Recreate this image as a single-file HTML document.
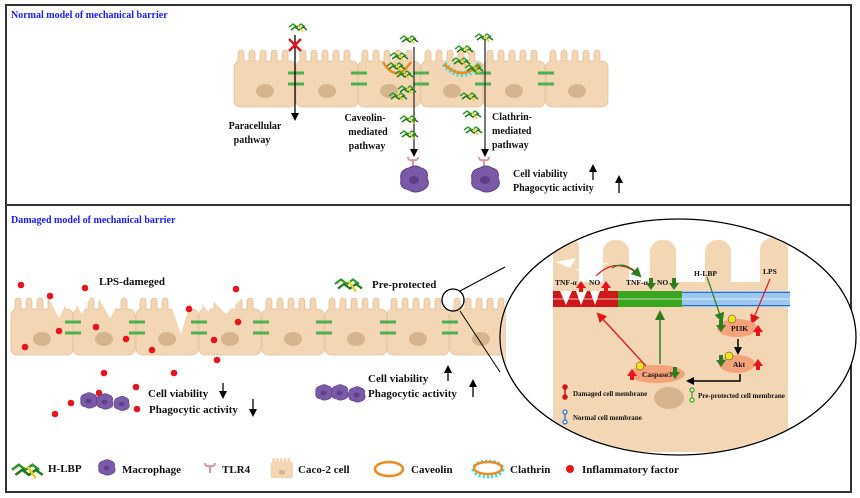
<!DOCTYPE html>
<html><head><meta charset="utf-8"><style>
html,body{margin:0;padding:0;background:#fff}
svg{display:block;font-family:"Liberation Serif",serif;font-weight:bold}
</style></head><body>
<svg width="860" height="498" viewBox="0 0 860 498" xmlns="http://www.w3.org/2000/svg">
<defs>
<g id="cell">
<g fill="#f3d6b3" stroke="#e4c09a" stroke-width="0.8">
<rect x="4" y="0" width="6" height="20" rx="3"/><rect x="15" y="0" width="6" height="20" rx="3"/><rect x="26" y="0" width="6" height="20" rx="3"/><rect x="37" y="0" width="6" height="20" rx="3"/><rect x="48" y="0" width="6" height="20" rx="3"/>
<rect x="0" y="11" width="62" height="46" rx="6"/>
</g>
<g fill="#f3d6b3"><rect x="5" y="6" width="4" height="8"/><rect x="16" y="6" width="4" height="8"/><rect x="27" y="6" width="4" height="8"/><rect x="38" y="6" width="4" height="8"/><rect x="49" y="6" width="4" height="8"/></g>
<ellipse cx="31" cy="41" rx="9" ry="7" fill="#d6b58e"/>
</g>
<g id="hlbp">
<path d="M0,4 l4,-3 l4,3 l4,-3 l4,3" stroke="#2e9a2e" stroke-width="1.5" fill="none"/>
<path d="M2,7 l4,-3 l4,3 l4,-3 l4,3" stroke="#1f7a1f" stroke-width="1.5" fill="none"/>
<path d="M9,2 l5,7" stroke="#e8d020" stroke-width="1.5"/>
</g>
<g id="mac">
<path d="M-12,0 q-2,-10 8,-12 q6,-4 12,0 q8,2 6,10 q4,8 -4,12 q-8,4 -14,0 q-10,-2 -8,-10z" fill="#7a5aa6" stroke="#5a3e86"/>
<ellipse cx="1" cy="0" rx="5" ry="4" fill="#5e4088"/>
</g>
<g id="tlr"><path d="M0,10 v-7 M-5,0 q0,4 5,3 q5,1 5,-3" stroke="#d99aa8" stroke-width="2" fill="none"/></g>
<marker id="ab" markerWidth="8" markerHeight="8" refX="4" refY="4" orient="auto" markerUnits="userSpaceOnUse"><path d="M0,0 L8,4 L0,8z" fill="#000"/></marker>
<marker id="ar" markerWidth="10" markerHeight="10" refX="5" refY="5" orient="auto" markerUnits="userSpaceOnUse"><path d="M0,0 L10,5 L0,10z" fill="#e8141c"/></marker>
<marker id="ag" markerWidth="10" markerHeight="10" refX="5" refY="5" orient="auto" markerUnits="userSpaceOnUse"><path d="M0,0 L10,5 L0,10z" fill="#2e7d1e"/></marker>
</defs>
<rect x="6" y="5" width="845" height="200" fill="none" stroke="#333" stroke-width="2"/>
<rect x="6" y="205" width="845" height="287" fill="none" stroke="#333" stroke-width="2"/>
<text x="11" y="18" fill="#1a1aff" font-size="10">Normal model of mechanical barrier</text>
<text x="11" y="223" fill="#1a1aff" font-size="10">Damaged model of mechanical barrier</text>

<!-- top cells -->
<g transform="translate(234,50)"><use href="#cell"/></g>
<g transform="translate(296,50)"><use href="#cell"/></g>
<g transform="translate(358,50)"><use href="#cell"/></g>
<g transform="translate(421,50)"><use href="#cell"/></g>
<g transform="translate(483,50)"><use href="#cell"/></g>
<g transform="translate(546,50)"><use href="#cell"/></g>
<g stroke="#4caf50" stroke-width="3">
<path d="M288,73h16M288,84h16M351,73h16M351,84h16M413,73h16M413,84h16M475,73h16M475,84h16M538,73h16M538,84h16"/>
</g>
<path d="M383,62 q13,22 28,0" fill="none" stroke="#f08a1a" stroke-width="2.5"/>
<path d="M444,64 q18,20 36,0" fill="none" stroke="#2ee0f0" stroke-width="6" stroke-dasharray="2 2"/>
<path d="M444,64 q18,18 36,0" fill="none" stroke="#f08a1a" stroke-width="2.5"/>
<line x1="295" y1="35" x2="295" y2="117" stroke="#000" stroke-width="1.3" marker-end="url(#ab)"/>
<path d="M289,39l12,12M301,39l-12,12" stroke="#e8141c" stroke-width="2.5"/>
<line x1="414" y1="47" x2="414" y2="153" stroke="#333" stroke-width="1.3" marker-end="url(#ab)"/>
<line x1="485" y1="40" x2="485" y2="153" stroke="#333" stroke-width="1.3" marker-end="url(#ab)"/>
<g>
<use href="#hlbp" x="289" y="23"/><use href="#hlbp" x="400" y="35"/><use href="#hlbp" x="390" y="52"/><use href="#hlbp" x="387" y="62"/><use href="#hlbp" x="395" y="70"/><use href="#hlbp" x="398" y="85"/><use href="#hlbp" x="389" y="92"/><use href="#hlbp" x="400" y="115"/><use href="#hlbp" x="400" y="130"/>
<use href="#hlbp" x="475" y="33"/><use href="#hlbp" x="455" y="45"/><use href="#hlbp" x="452" y="57"/><use href="#hlbp" x="465" y="64"/><use href="#hlbp" x="460" y="92"/><use href="#hlbp" x="463" y="110"/><use href="#hlbp" x="464" y="126"/>
</g>
<g font-size="10" fill="#111" text-anchor="middle">
<text x="255" y="129">Paracellular</text><text x="252" y="143">pathway</text>
<text x="365" y="121">Caveolin-</text><text x="368" y="135">mediated</text><text x="367" y="149">pathway</text>
</g>
<g font-size="10" fill="#111"><text x="492" y="120">Clathrin-</text><text x="492" y="134">mediated</text><text x="492" y="148">pathway</text>
<text x="513" y="177">Cell viability</text><text x="513" y="191">Phagocytic activity</text></g>
<line x1="593" y1="180" x2="593" y2="168" stroke="#000" stroke-width="1.3" marker-end="url(#ab)"/>
<line x1="619" y1="193" x2="619" y2="179" stroke="#000" stroke-width="1.3" marker-end="url(#ab)"/>
<use href="#tlr" x="413" y="157"/><use href="#mac" x="413" y="180"/>
<use href="#tlr" x="484" y="157"/><use href="#mac" x="484" y="180"/>

<!-- bottom cells -->
<g transform="translate(11,298)"><use href="#cell"/></g>
<g transform="translate(73,298)"><use href="#cell"/></g>
<g transform="translate(136,298)"><use href="#cell"/></g>
<g transform="translate(199,298)"><use href="#cell"/></g>
<g transform="translate(262,298)"><use href="#cell"/></g>
<g transform="translate(325,298)"><use href="#cell"/></g>
<g transform="translate(387,298)"><use href="#cell"/></g>
<g transform="translate(450,298)"><use href="#cell"/></g>
<g fill="#fff"><path d="M46,294 l13,24 l12,-24z M70,294 l12,20 l10,-20z M96,294 l14,24 l14,-24z M167,294 l14,40 l12,-40z M196,294 l12,18 l10,-18z M206,294 l20,20 l20,-20z"/></g>
<g stroke="#4caf50" stroke-width="3">
<path d="M65,322h16M65,333h16M129,322h16M129,333h16M191,322h16M191,333h16M253,322h16M253,333h16M316,322h16M316,333h16M380,322h16M380,333h16M442,322h16M442,333h16"/>
</g>
<g fill="#e8141c">
<circle cx="21" cy="285" r="3.3"/><circle cx="50" cy="296" r="3.3"/><circle cx="85" cy="288" r="3.3"/><circle cx="236" cy="289" r="3.3"/><circle cx="59" cy="331" r="3.3"/><circle cx="96" cy="327" r="3.3"/><circle cx="189" cy="309" r="3.3"/><circle cx="126" cy="339" r="3.3"/><circle cx="238" cy="322" r="3.3"/><circle cx="25" cy="347" r="3.3"/><circle cx="152" cy="350" r="3.3"/><circle cx="214" cy="340" r="3.3"/><circle cx="217" cy="360" r="3.3"/><circle cx="104" cy="373" r="3.3"/><circle cx="174" cy="373" r="3.3"/><circle cx="136" cy="387" r="3.3"/><circle cx="99" cy="393" r="3.3"/><circle cx="71" cy="403" r="3.3"/><circle cx="55" cy="414" r="3.3"/><circle cx="137" cy="409" r="3.3"/>
</g>
<use href="#mac" transform="translate(88,401) scale(0.6)"/><use href="#mac" transform="translate(104,402) scale(0.6)"/><use href="#mac" transform="translate(121,404) scale(0.55)"/>
<use href="#mac" transform="translate(323,393) scale(0.6)"/><use href="#mac" transform="translate(339,393) scale(0.6)"/><use href="#mac" transform="translate(356,395) scale(0.6)"/>
<g font-size="11" fill="#111">
<text x="99" y="285">LPS-dameged</text>
<text x="372" y="288">Pre-protected</text>
<text x="148" y="397">Cell viability</text><text x="149" y="413">Phagocytic activity</text>
<text x="368" y="382">Cell viability</text><text x="368" y="397">Phagocytic activity</text>
</g>
<use href="#hlbp" transform="translate(335,278) scale(1.5)"/>
<line x1="223" y1="383" x2="223" y2="395" stroke="#000" stroke-width="1.3" marker-end="url(#ab)"/>
<line x1="253" y1="399" x2="253" y2="413" stroke="#000" stroke-width="1.3" marker-end="url(#ab)"/>
<line x1="448" y1="381" x2="448" y2="369" stroke="#000" stroke-width="1.3" marker-end="url(#ab)"/>
<line x1="473" y1="397" x2="473" y2="383" stroke="#000" stroke-width="1.3" marker-end="url(#ab)"/>

<!-- zoom circle -->
<circle cx="453" cy="300" r="11" fill="none" stroke="#000" stroke-width="1.3"/>
<path d="M460,291 L505,267 M460,311 L500,372" stroke="#000" stroke-width="1"/>
<ellipse cx="678" cy="337" rx="178" ry="118" fill="#fff" stroke="#000" stroke-width="1.3"/>
<clipPath id="oc"><ellipse cx="678" cy="337" rx="177" ry="117"/></clipPath>
<g clip-path="url(#oc)" fill="#f3d6b3">
<rect x="490" y="300" width="16" height="100" rx="8"/>
<rect x="553" y="236" width="26" height="80" rx="12"/>
<rect x="603" y="240" width="26" height="80" rx="12"/>
<rect x="650" y="240" width="26" height="80" rx="12"/>
<rect x="705" y="240" width="26" height="80" rx="12"/>
<rect x="760" y="238" width="28" height="80" rx="12"/>
<rect x="553" y="282" width="235" height="170"/>
</g>
<path d="M556,262 l20,-4 l-6,10z M575,270 l35,-8 l-20,10z" fill="#fff"/>
<ellipse cx="669" cy="398" rx="15" ry="11" fill="#d6b58e"/>
<rect x="553" y="291" width="65" height="16" fill="#cc1818"/>
<path d="M560,291 l6,14 l6,-14z M576,291 l5,14 l6,-14z M590,291 l5,14 l5,-14z" fill="#fff"/>
<rect x="618" y="291" width="64" height="16" fill="#3aa51e"/>
<rect x="682" y="291" width="108" height="16" fill="#9cc8f0"/>
<g stroke="#fff" stroke-width="1" opacity="0.7"><path d="M553,299h237"/></g>
<g fill="none" stroke="#1e6ed6" stroke-width="1"><path d="M682,292.5h108M682,305.5h108"/></g>
<path d="M596,276 q20,-20 42,-2" fill="none" stroke="#e8141c" stroke-width="1.2"/>
<path d="M612,268 q12,-8 26,6" fill="none" stroke="#2e7d1e" stroke-width="1.2" marker-end="url(#ag)"/>
<g font-size="7.5" fill="#111">
<text x="555" y="285">TNF-α</text><text x="589" y="285">NO</text>
<text x="626" y="285">TNF-α</text><text x="657" y="285">NO</text>
<text x="694" y="276">H-LBP</text><text x="763" y="274">LPS</text>
</g>
<g fill="#e8141c"><path d="M576,288 l5,-7 l5,7h-3v4h-4v-4z M601,288 l5,-7 l5,7h-3v4h-4v-4z"/></g>
<g fill="#2e7d1e"><path d="M646,283 l5,7 l5,-7h-3v-5h-4v5z M669,283 l5,7 l5,-7h-3v-5h-4v5z"/></g>
<path d="M707,277 L721,318" stroke="#2e7d1e" stroke-width="1.2" marker-end="url(#ag)"/>
<path d="M770,279 L753,320" stroke="#e8141c" stroke-width="1.2" marker-end="url(#ar)"/>
<ellipse cx="737" cy="328" rx="20" ry="9" fill="#f4a27a"/>
<text x="731" y="331" font-size="7.5" fill="#111">PI3K</text>
<circle cx="732" cy="319" r="4" fill="#f2e21e" stroke="#333" stroke-width=".5"/>
<ellipse cx="737" cy="364" rx="18" ry="9" fill="#f4a27a"/>
<text x="733" y="367" font-size="7.5" fill="#111">Akt</text>
<circle cx="729" cy="356" r="4" fill="#f2e21e" stroke="#333" stroke-width=".5"/>
<ellipse cx="657" cy="374" rx="28" ry="9" fill="#f4a27a"/>
<text x="642" y="377" font-size="7.5" fill="#111">Caspase3</text>
<circle cx="640" cy="366" r="4" fill="#f2e21e" stroke="#333" stroke-width=".5"/>
<path d="M738,339 v12" stroke="#000" stroke-width="1.5" marker-end="url(#ab)"/>
<path d="M740,374 v7 h-50" fill="none" stroke="#000" stroke-width="1.5" marker-end="url(#ab)"/>
<path d="M660,364 V315" stroke="#2e7d1e" stroke-width="1.5" marker-end="url(#ag)"/>
<path d="M646,366 L600,316" stroke="#e8141c" stroke-width="1.3" marker-end="url(#ar)"/>
<g fill="#e8141c"><path d="M753,332 l5,-7 l5,7h-3v4h-4v-4z M753,366 l5,-7 l5,7h-3v4h-4v-4z M627,376 l5,-7 l5,7h-3v4h-4v-4z"/></g>
<g fill="#2e7d1e"><path d="M716,325 l5,7 l5,-7h-3v-5h-4v5z M716,360 l5,7 l5,-7h-3v-5h-4v5z M670,372 l5,7 l5,-7h-3v-5h-4v5z"/></g>
<g stroke="#cc1818" stroke-width="1.5"><path d="M565,387v10"/><circle cx="565" cy="387" r="2" fill="#cc1818"/><circle cx="565" cy="397" r="2" fill="#cc1818"/></g>
<g stroke="#1e6ed6" stroke-width="1.2" fill="#fff"><path d="M565,412v10"/><circle cx="565" cy="412" r="2"/><circle cx="565" cy="422" r="2"/></g>
<g stroke="#3aa51e" stroke-width="1.2" fill="#fff"><path d="M692,390v10"/><circle cx="692" cy="390" r="2"/><circle cx="692" cy="400" r="2"/></g>
<g font-size="7" fill="#111"><text x="573" y="396">Damaged cell membrane</text><text x="573" y="420">Normal cell membrane</text><text x="698" y="398">Pre-protected cell membrane</text></g>

<!-- legend -->
<use href="#hlbp" transform="translate(12,463) scale(1.7)"/>
<use href="#mac" transform="translate(106,468) scale(0.6)"/>
<use href="#tlr" transform="translate(210,463)"/>
<g transform="translate(271,458) scale(0.35)"><use href="#cell"/></g>
<ellipse cx="389" cy="469" rx="14" ry="7" fill="none" stroke="#f08a1a" stroke-width="2.5"/>
<ellipse cx="488" cy="469" rx="14" ry="7" fill="none" stroke="#2ee0f0" stroke-width="5" stroke-dasharray="2 2"/>
<ellipse cx="488" cy="468" rx="14" ry="6" fill="#fff" stroke="#f08a1a" stroke-width="2.5"/>
<circle cx="570" cy="469" r="4" fill="#e8141c"/>
<g font-size="11" fill="#111">
<text x="48" y="472">H-LBP</text><text x="122" y="473">Macrophage</text><text x="222" y="473">TLR4</text><text x="298" y="473">Caco-2 cell</text><text x="411" y="473">Caveolin</text><text x="510" y="473">Clathrin</text><text x="582" y="473">Inflammatory factor</text>
</g>
</svg>
</body></html>
